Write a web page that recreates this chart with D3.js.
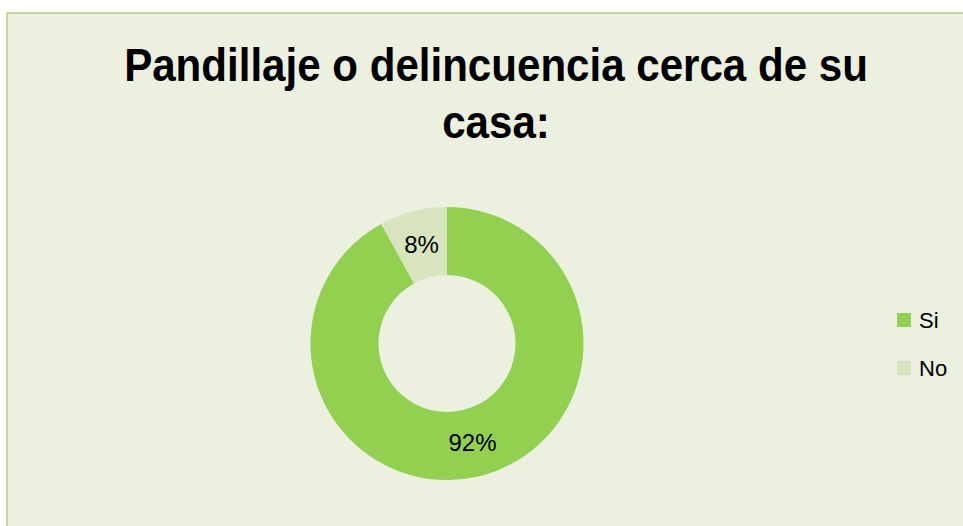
<!DOCTYPE html>
<meta charset="utf-8">
<style>
  body { margin: 0; background: #fff; }
  svg { display: block; }
  text { font-family: "Liberation Sans", Arial, sans-serif; fill: #000; }
</style>
<body>
  <div id="chart"></div>
  <script src="https://d3js.org/d3.v7.min.js"></script>
  <script>
    var titleLines = ["Pandillaje o delincuencia cerca de su", "casa:"];
    var categories = ["Si", "No"];
    var values = [92, 8];
    var colors = ["#92D050", "#D7E4BD"];

    var width = 963, height = 526;
    var cx = 447, cy = 343.5;
    var outerR = 136.5, innerR = 68.5;

    var svg = d3.select("#chart").append("svg")
      .attr("width", width)
      .attr("height", height);

    // chart area with border (right/bottom edges run off the page)
    svg.append("rect")
      .attr("x", 7)
      .attr("y", 13)
      .attr("width", width + 20)
      .attr("height", height + 20)
      .style("fill", "#EBF0DF")
      .style("stroke", "#C3D69B")
      .style("stroke-width", 2);

    // title is rendered slightly condensed, like the original
    svg.selectAll(".title")
      .data(titleLines)
      .enter()
      .append("text")
      .attr("class", "title")
      .attr("transform", function (d, i) { return "translate(496," + (81 + i * 57) + ") scale(0.915,1)"; })
      .attr("text-anchor", "middle")
      .style("font-size", "46px")
      .style("font-weight", "bold")
      .text(function (d) { return d; });

    var data = categories.map(function (c, i) { return { name: c, value: values[i] }; });
    var total = d3.sum(values);

    var pie = d3.pie().sort(null).value(function (d) { return d.value; });
    var arc = d3.arc().innerRadius(innerR).outerRadius(outerR);

    var color = d3.scaleOrdinal().domain(categories).range(colors);

    var g = svg.append("g")
      .attr("transform", "translate(" + cx + "," + cy + ")");

    var arcs = pie(data);

    g.selectAll("path")
      .data(arcs)
      .enter()
      .append("path")
      .attr("d", arc)
      .style("fill", function (d) { return color(d.data.name); });

    g.selectAll(".lbl")
      .data(arcs)
      .enter()
      .append("text")
      .attr("class", "lbl")
      .attr("transform", function (d) { return "translate(" + arc.centroid(d) + ")"; })
      .attr("text-anchor", "middle")
      .attr("dy", "0.36em")
      .style("font-size", "24px")
      .text(function (d) { return Math.round(d.data.value / total * 100) + "%"; });

    var legend = svg.selectAll(".legend")
      .data(categories)
      .enter()
      .append("g")
      .attr("class", "legend")
      .attr("transform", function (d, i) { return "translate(897," + (313 + i * 48) + ")"; });

    legend.append("rect")
      .attr("width", 14)
      .attr("height", 14)
      .style("fill", function (d) { return color(d); });

    legend.append("text")
      .attr("x", 22)
      .attr("y", 7)
      .attr("dy", "0.36em")
      .style("font-size", "22px")
      .text(function (d) { return d; });
  </script>
</body>
